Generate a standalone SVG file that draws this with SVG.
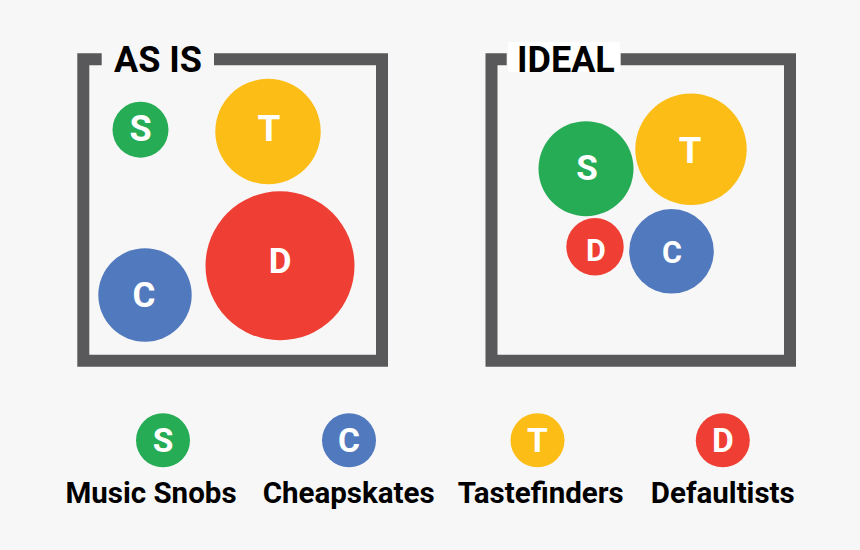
<svg xmlns="http://www.w3.org/2000/svg" width="860" height="550" viewBox="0 0 860 550">
<style>
.frame{fill:none;stroke:#59595b;stroke-width:12;stroke-linejoin:miter}
.title{font-family:Roboto,"Liberation Sans",sans-serif;font-weight:bold;font-size:36px;fill:#000}
.let{font-family:Roboto,"Liberation Sans",sans-serif;font-weight:bold;fill:#fff;text-anchor:middle}
.lbl{font-family:Roboto,"Liberation Sans",sans-serif;font-weight:bold;font-size:29.5px;fill:#000;text-anchor:middle}
.s{fill:#26ac55}.t{fill:#fbbd16}.d{fill:#ef3e33}.c{fill:#5179be}
</style>
<rect width="860" height="550" fill="#f7f7f7"/>
<g id="as-is">
<path class="frame" d="M101.7 59.3H83.3V360.7H382V59.3H214"/>
<text class="title" x="114" y="72.3">AS IS</text>
</g>
<g id="ideal">
<rect x="508" y="42" width="112" height="30" fill="#ffffff"/>
<path class="frame" d="M506.7 59.3H491.5V360.7H790V59.3H620.7"/>
<text class="title" x="517" y="72.3">IDEAL</text>
</g>
<g id="asis-S"><circle class="s" cx="140.5" cy="129.7" r="28"/><text class="let" x="140.5" y="140.5" font-size="36">S</text></g>
<g id="asis-T"><circle class="t" cx="268" cy="131.5" r="52.7"/><text class="let" x="269" y="141" font-size="37">T</text></g>
<g id="asis-D"><circle class="d" cx="280" cy="265.8" r="74.5"/><text class="let" x="280" y="273.3" font-size="35">D</text></g>
<g id="asis-C"><circle class="c" cx="145" cy="295" r="46.7"/><text class="let" x="144" y="306.5" font-size="35">C</text></g>
<g id="ideal-S"><circle class="s" cx="586" cy="168.7" r="47.5"/><text class="let" x="587" y="179.5" font-size="35">S</text></g>
<g id="ideal-T"><circle class="t" cx="691" cy="149.3" r="55.7"/><text class="let" x="690" y="162.7" font-size="36.5">T</text></g>
<g id="ideal-D"><circle class="d" cx="595" cy="246.8" r="28.7"/><text class="let" x="596" y="260.7" font-size="30.5">D</text></g>
<g id="ideal-C"><circle class="c" cx="671.5" cy="251.3" r="42.3"/><text class="let" x="672" y="263" font-size="30.5">C</text></g>
<g id="legend-S"><circle class="s" cx="163" cy="440.3" r="27"/><text class="let" x="163" y="452" font-size="33.5">S</text><text class="lbl" x="151" y="503.3">Music Snobs</text></g>
<g id="legend-C"><circle class="c" cx="349" cy="440.3" r="27"/><text class="let" x="349" y="452" font-size="33.5">C</text><text class="lbl" x="348.6" y="503.3">Cheapskates</text></g>
<g id="legend-T"><circle class="t" cx="537.5" cy="440.3" r="27"/><text class="let" x="537.5" y="452" font-size="33.5">T</text><text class="lbl" x="540.7" y="503.3">Tastefinders</text></g>
<g id="legend-D"><circle class="d" cx="722.8" cy="440.3" r="27"/><text class="let" x="722.8" y="452" font-size="33.5">D</text><text class="lbl" x="722.8" y="503.3">Defaultists</text></g>
<g id="connectors"/>
</svg>
